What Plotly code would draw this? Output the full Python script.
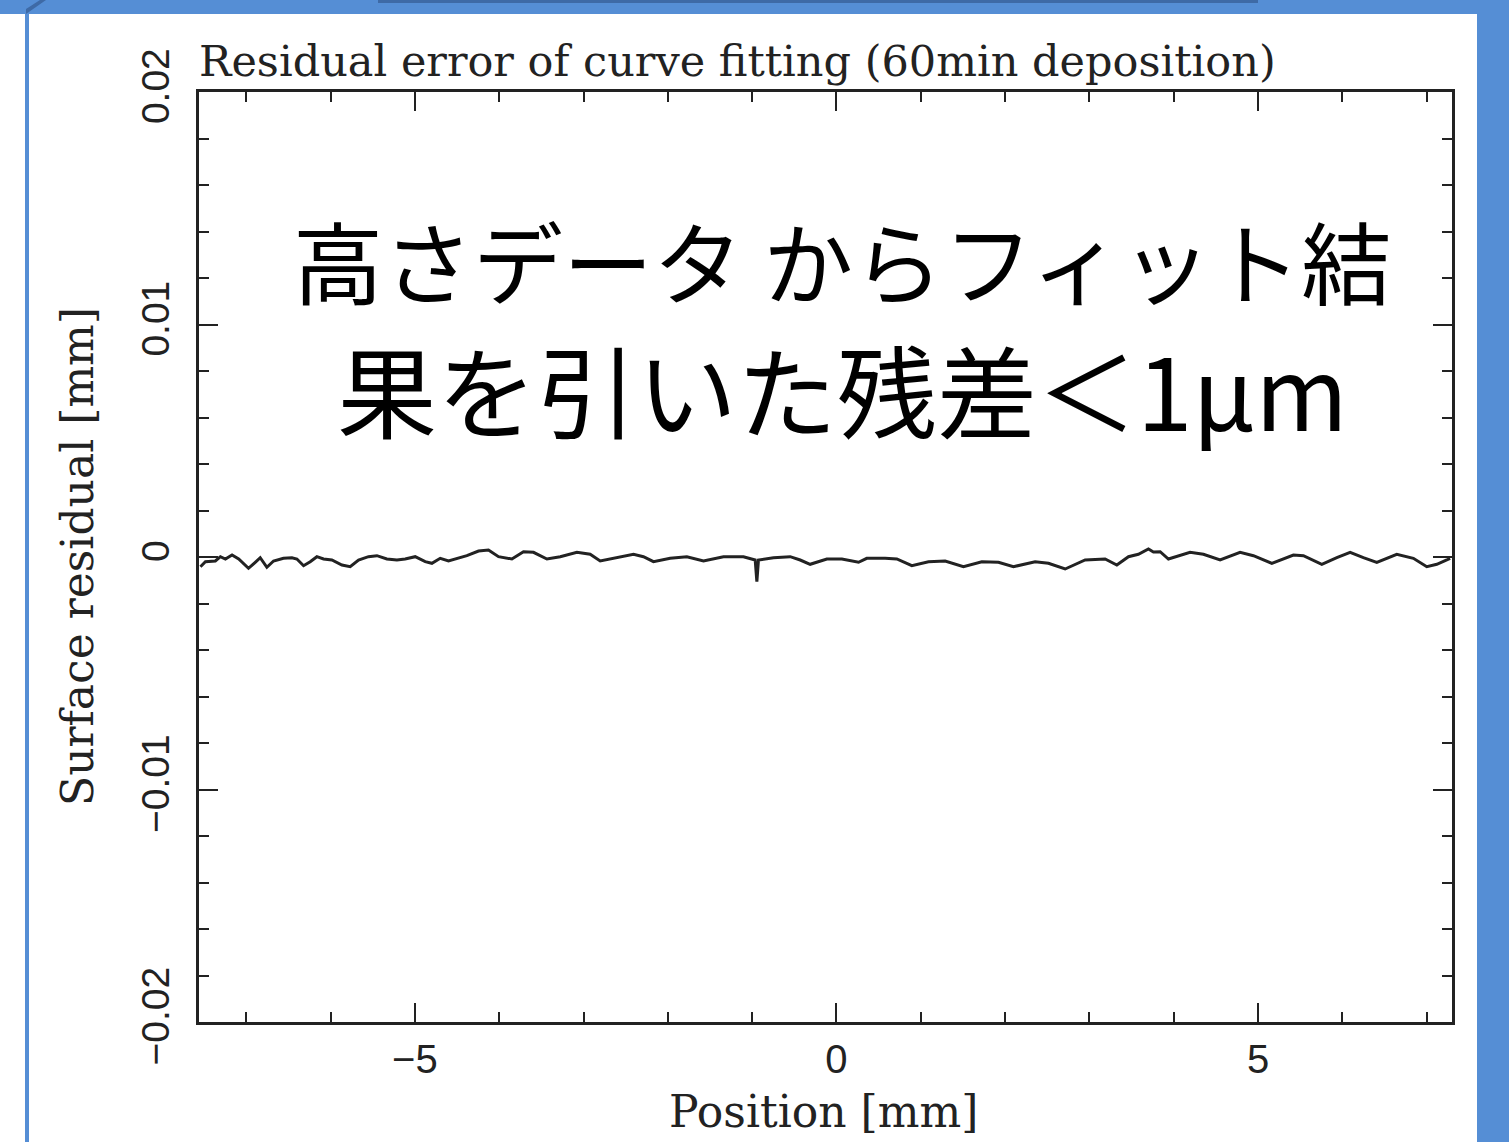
import plotly.graph_objects as go

# ---- data ----
position_mm = [
    -7.543, -7.484, -7.366, -7.306, -7.247, -7.168, -7.089, -6.973, -6.893, -6.834,
    -6.755, -6.676, -6.558, -6.458, -6.399, -6.320, -6.241, -6.162, -6.083, -5.984,
    -5.865, -5.767, -5.668, -5.550, -5.450, -5.332, -5.213, -5.115, -4.996, -4.877,
    -4.798, -4.699, -4.601, -4.482, -4.383, -4.245, -4.127, -4.008, -3.849, -3.712,
    -3.593, -3.434, -3.276, -3.078, -2.921, -2.802, -2.604, -2.407, -2.289, -2.170,
    -1.972, -1.774, -1.577, -1.340, -1.103, -0.964, -0.944, -0.925, -0.747, -0.549,
    -0.430, -0.312, -0.114, 0.064, 0.262, 0.360, 0.577, 0.716, 0.894, 1.091,
    1.289, 1.506, 1.724, 1.921, 2.099, 2.356, 2.514, 2.712, 2.949, 3.186,
    3.325, 3.463, 3.581, 3.700, 3.759, 3.839, 3.937, 4.194, 4.352, 4.550,
    4.787, 4.945, 5.163, 5.419, 5.538, 5.756, 5.934, 6.092, 6.249, 6.408,
    6.645, 6.842, 7.001, 7.120, 7.238, 7.277,
]
residual_mm = [
    -0.000417, -0.000202, -0.000172, 0.000013, -0.000086, 0.000086, -0.000086, -0.000486, -0.000228, -0.000030,
    -0.000443, -0.000172, -0.000056, -0.000030, -0.000086, -0.000374, -0.000202, 0.000013, -0.000086, -0.000129,
    -0.000344, -0.000417, -0.000129, 0.000013, 0.000056, -0.000086, -0.000129, -0.000086, 0.000013, -0.000202,
    -0.000271, -0.000056, -0.000172, -0.000056, 0.000056, 0.000258, 0.000301, 0.000013, -0.000086, 0.000228,
    0.000202, -0.000086, 0.000013, 0.000202, 0.000116, -0.000172, -0.000030, 0.000116, 0.000013, -0.000202,
    -0.000056, 0.000013, -0.000172, 0.000013, 0.000013, -0.000129, -0.001062, -0.000129, -0.000030, 0.000013,
    -0.000129, -0.000314, -0.000086, -0.000086, -0.000228, -0.000056, -0.000056, -0.000086, -0.000374, -0.000202,
    -0.000172, -0.000417, -0.000202, -0.000228, -0.000417, -0.000202, -0.000271, -0.000516, -0.000129, -0.000086,
    -0.000344, 0.000013, 0.000116, 0.000344, 0.000215, 0.000228, -0.000086, 0.000202, 0.000116, -0.000129,
    0.000202, 0.000056, -0.000271, 0.000086, 0.000056, -0.000314, -0.000030, 0.000202, -0.000030, -0.000228,
    0.000116, -0.000056, -0.000417, -0.000314, -0.000129, -0.000056,
]

x_tick_vals = [-5, 0, 5]
x_tick_text = ["−5", "0", "5"]
y_tick_vals = [-0.02, -0.01, 0, 0.01, 0.02]
y_tick_text = ["−0.02", "−0.01", "0", "0.01", "0.02"]

title_text = "Residual error of curve fitting (60min deposition)"
x_title = "Position [mm]"
y_title = "Surface residual [mm]"
note_line1 = "高さデータ からフィット結"
note_line2 = "果を引いた残差＜1μm"

# ---- layout geometry ----
W, H = 1509, 1142
L, R, T, B = 199, 57, 92, 120
PW, PH = W - L - R, H - T - B


def px(x):
    return (x - L) / PW


def py(y):
    return (H - B - y) / PH


serif = "DejaVu Serif"
sans = "Liberation Sans, Arial, sans-serif"
ink = "#222222"

fig = go.Figure()
fig.add_trace(go.Scatter(
    x=position_mm, y=residual_mm, mode="lines",
    line=dict(color=ink, width=3), showlegend=False,
))

axis_common = dict(
    showgrid=False, zeroline=False, showline=True, linecolor=ink, linewidth=2.5,
    mirror="ticks", ticks="inside", tickcolor=ink, tickwidth=2, ticklen=19,
)

fig.update_xaxes(
    range=[-7.56, 7.30], tickvals=x_tick_vals, ticktext=x_tick_text,
    tickfont=dict(family=sans, size=40, color=ink),
    minor=dict(dtick=1, ticks="inside", ticklen=10, tickcolor=ink, tickwidth=2),
    **axis_common,
)
fig.update_yaxes(
    range=[-0.02, 0.02], tickvals=y_tick_vals, ticktext=y_tick_text, tickangle=-90,
    tickfont=dict(family=sans, size=39, color=ink), ticklabelstandoff=12,
    minor=dict(dtick=0.002, tick0=0, ticks="inside", ticklen=10, tickcolor=ink, tickwidth=2),
    **axis_common,
)

annotations = [
    dict(text=title_text, x=px(197), y=py(61), xanchor="left", yanchor="middle",
         font=dict(family=serif, size=43, color=ink)),
    dict(text=x_title, x=px(823), y=py(1111), xanchor="center", yanchor="middle",
         font=dict(family=serif, size=44, color=ink)),
    dict(text=y_title, x=px(77), y=py(557), xanchor="center", yanchor="middle", textangle=-90,
         font=dict(family=serif, size=44, color=ink)),
    dict(text=note_line1, x=px(842), y=py(259), xanchor="center", yanchor="middle",
         font=dict(family="Noto Sans CJK JP", size=90, color="black")),
    dict(text=note_line2, x=px(842), y=py(388), xanchor="center", yanchor="middle",
         font=dict(family="Noto Sans CJK JP", size=100, color="black")),
]
for a in annotations:
    a.update(xref="paper", yref="paper", showarrow=False)

blue = "#558ED5"
shapes = [
    dict(type="rect", x0=px(0), x1=px(W), y0=py(0), y1=py(14), fillcolor=blue, line_width=0),
    dict(type="rect", x0=px(378), x1=px(1258), y0=py(0), y1=py(3), fillcolor="#3E6AA6", line_width=0),
    dict(type="rect", x0=px(25), x1=px(29), y0=py(0), y1=py(H), fillcolor=blue, line_width=0),
    dict(type="rect", x0=px(1477), x1=px(W), y0=py(0), y1=py(H), fillcolor=blue, line_width=0),
    dict(type="path", path=f"M {px(26)},{py(14)} L {px(46)},{py(0)} L {px(40)},{py(0)} L {px(26)},{py(9)} Z",
         fillcolor="#3E6AA6", line_width=0),
]
for s in shapes:
    s.update(xref="paper", yref="paper", layer="above")

fig.update_layout(
    width=W, height=H, autosize=False,
    margin=dict(l=L, r=R, t=T, b=B, pad=0),
    paper_bgcolor="white", plot_bgcolor="white",
    annotations=annotations, shapes=shapes, showlegend=False,
)

fig.write_html("out.html")
